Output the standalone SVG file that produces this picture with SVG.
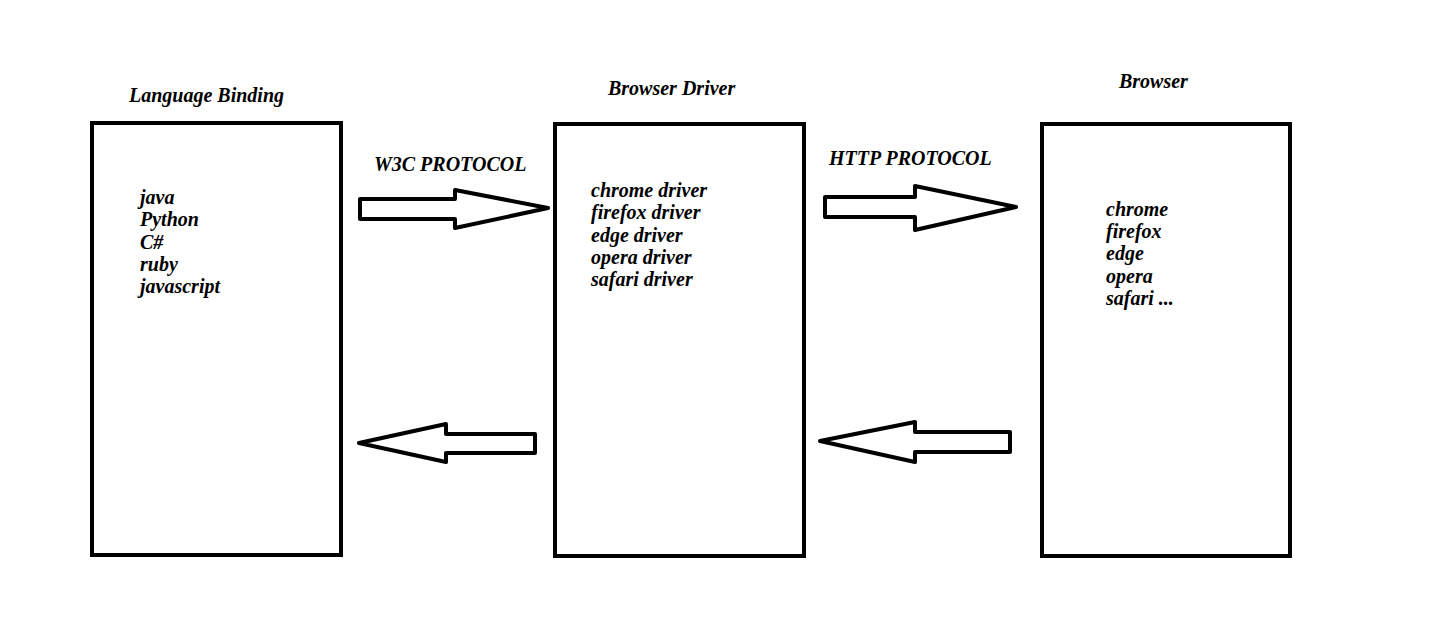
<svg xmlns="http://www.w3.org/2000/svg" width="1438" height="625" viewBox="0 0 1438 625">
<style>
.box{fill:#fff;stroke:#000;stroke-width:4}
.arr{fill:#fff;stroke:#000;stroke-width:4;stroke-linejoin:round}
text{font-family:"Liberation Serif",serif;font-weight:bold;font-style:italic;font-size:20px;fill:#000}
</style>
<rect width="1438" height="625" fill="#fff"/>
<g id="lang">
<text x="129" y="102">Language Binding</text>
<rect class="box" x="92" y="123" width="249" height="432"/>
<text x="140" y="204">java</text><text x="140" y="226">Python</text><text x="140" y="249">C#</text><text x="140" y="271">ruby</text><text x="140" y="293">javascript</text>
</g>
<g id="driver">
<text x="608" y="95">Browser Driver</text>
<rect class="box" x="555" y="124" width="249" height="432"/>
<text x="591" y="197">chrome driver</text><text x="591" y="219">firefox driver</text><text x="591" y="242">edge driver</text><text x="591" y="264">opera driver</text><text x="591" y="286">safari driver</text>
</g>
<g id="browser">
<text x="1119" y="88">Browser</text>
<rect class="box" x="1042" y="124" width="248" height="432"/>
<text x="1106" y="216">chrome</text><text x="1106" y="238">firefox</text><text x="1106" y="260">edge</text><text x="1106" y="283">opera</text><text x="1106" y="305">safari ...</text>
</g>
<g id="connectors">
<text x="374" y="171">W3C PROTOCOL</text>
<text x="829" y="165">HTTP PROTOCOL</text>
<polygon class="arr" points="360,199 455,199 455,190 548,208 455,228 455,219 360,219"/>
<polygon class="arr" points="535,434 446,434 446,424 359,443 446,462 446,453 535,453"/>
<polygon class="arr" points="825,197 915,197 915,186 1016,207 915,230 915,217 825,217"/>
<polygon class="arr" points="1010,432 915,432 915,422 820,441 915,462 915,452 1010,452"/>
</g>
</svg>
